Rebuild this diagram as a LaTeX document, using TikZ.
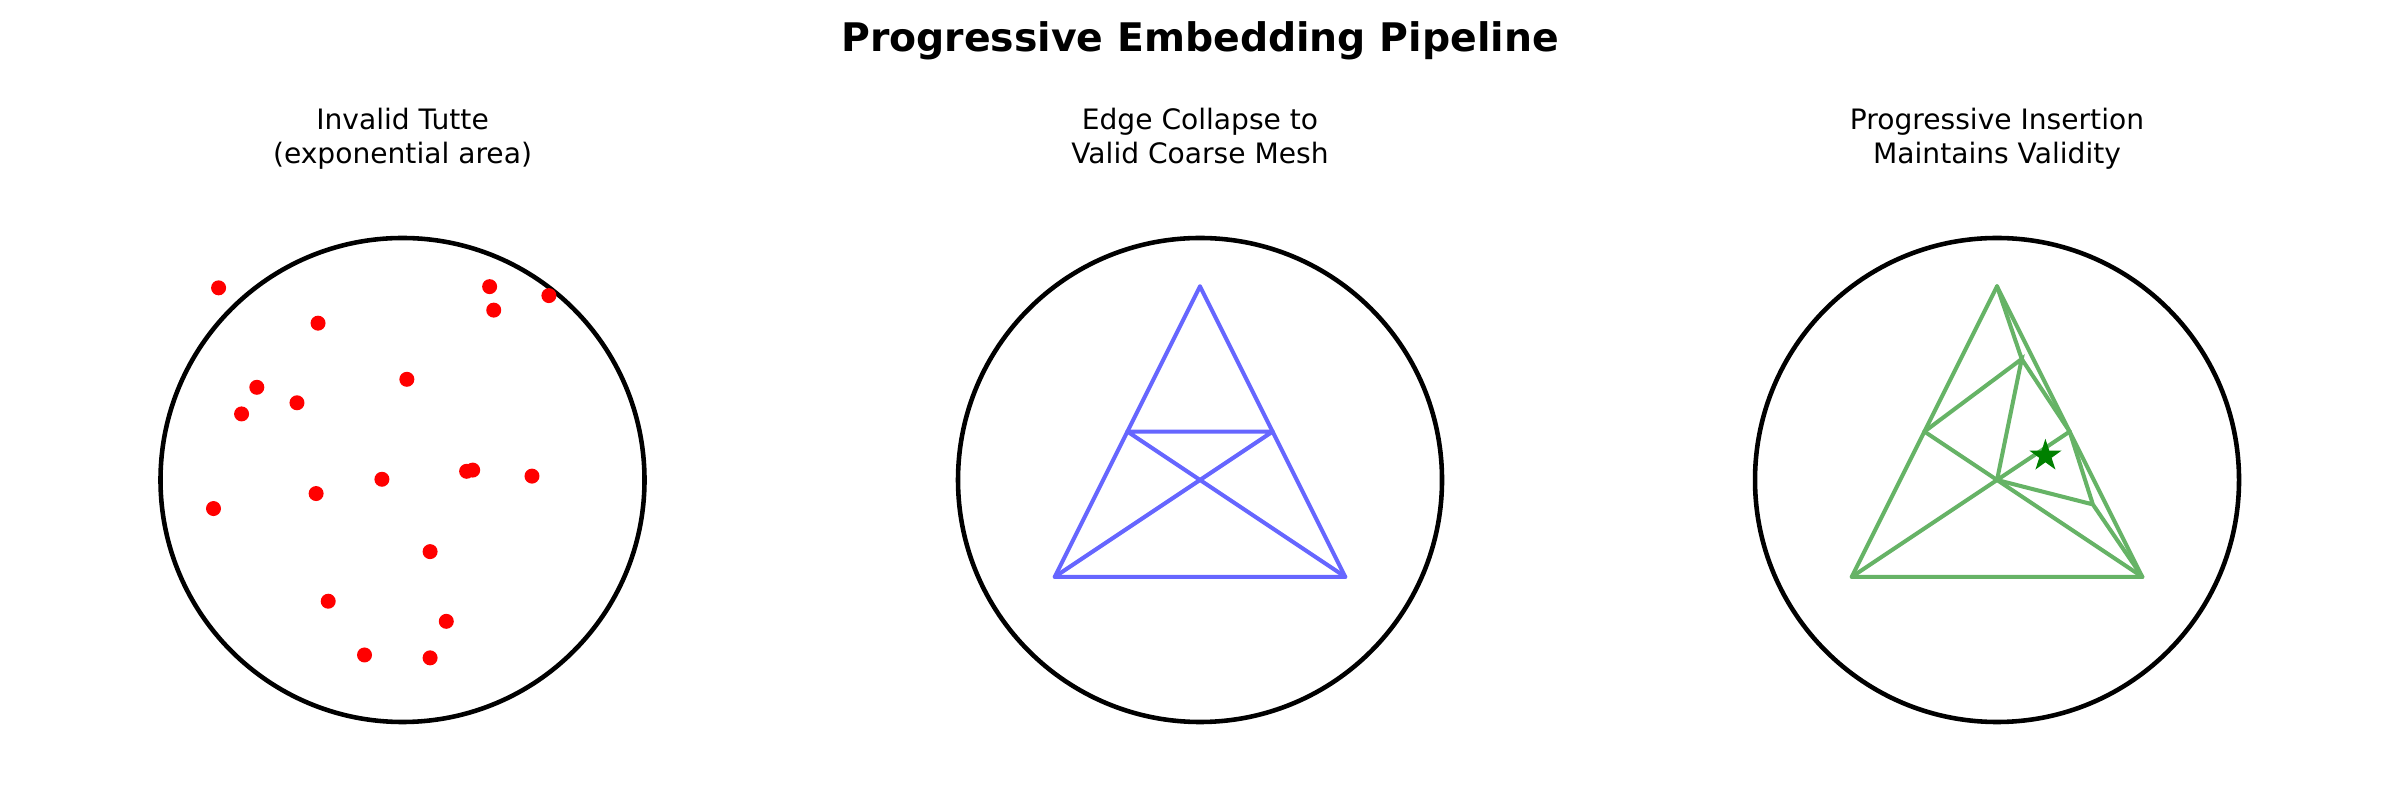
\documentclass[tikz,border=0pt]{standalone}
\usepackage{fontspec}
\setmainfont{DejaVu Sans}
\usetikzlibrary{shapes.geometric}

\definecolor{meshblue}{RGB}{102,102,255}
\definecolor{meshgreen}{RGB}{102,179,102}
\definecolor{stargreen}{RGB}{0,128,0}

\tikzset{
  disk/.style={line width=1.3pt},
  edgeblue/.style={meshblue, line width=1.15pt, line cap=round},
  edgegreen/.style={meshgreen, line width=1.15pt, line cap=round},
  paneltitle/.style={font=\fontsize{8}{9.55}\selectfont, align=center, anchor=base},
}

\begin{document}
\begin{tikzpicture}
        \useasboundingbox (0,0) rectangle (24,8);
        \node[font=\fontsize{11.2}{13}\selectfont\bfseries, anchor=base] (title) at (12,7.485) {Progressive Embedding Pipeline};

        % tutte layout, points everywhere
        \begin{scope}[shift={(4.025,3.2)}, scale=2.42]
            \draw[disk] (0,0) circle[radius=1];
            \node[paneltitle] (t1) at (0,1.308) {Invalid Tutte\\(exponential area)};
            \foreach \x/\y in {-0.760/0.794, -0.349/0.648, 0.360/0.799, 0.377/0.702, 0.605/0.762,
                               0.018/0.416, -0.602/0.383, -0.436/0.319, -0.665/0.273, 0.265/0.036,
                               0.290/0.041, 0.535/0.016, -0.085/0.003, -0.357/-0.056, -0.781/-0.118,
                               0.114/-0.296, -0.307/-0.501, 0.181/-0.584, -0.157/-0.723, 0.114/-0.735}
                \fill[red] (\x,\y) circle[radius=0.031];
        \end{scope}

        % coarse mesh
        \begin{scope}[shift={(12,3.2)}, scale=2.42]
            \draw[disk] (0,0) circle[radius=1];
            \node[paneltitle] (t2) at (0,1.308) {Edge Collapse to\\Valid Coarse Mesh};
            \coordinate (a2) at (0,0.8);
            \coordinate (bl2) at (-0.6,-0.4);
            \coordinate (br2) at (0.6,-0.4);
            \coordinate (ml2) at (-0.3,0.2);
            \coordinate (mr2) at (0.3,0.2);
            \draw[edgeblue] (a2) -- (bl2) (a2) -- (br2) (bl2) -- (br2);
            \draw[edgeblue] (ml2) -- (mr2) (ml2) -- (br2) (mr2) -- (bl2);
        \end{scope}

        % refined mesh
        \begin{scope}[shift={(19.97,3.2)}, scale=2.42]
            \draw[disk] (0,0) circle[radius=1];
            \node[paneltitle] (t3) at (0,1.308) {Progressive Insertion\\Maintains Validity};
            \coordinate (a3) at (0,0.8);
            \coordinate (bl3) at (-0.6,-0.4);
            \coordinate (br3) at (0.6,-0.4);
            \coordinate (ml3) at (-0.3,0.2);
            \coordinate (mr3) at (0.3,0.2);
            \coordinate (c3) at (0,0);
            \coordinate (p3) at (0.102,0.5);
            \coordinate (q3) at (0.396,-0.101);
            \draw[edgegreen] (a3) -- (bl3) (a3) -- (br3) (bl3) -- (br3);
            \draw[edgegreen] (ml3) -- (br3) (bl3) -- (mr3);
            \draw[edgegreen] (ml3) -- (p3) -- (c3) (a3) -- (p3) -- (mr3);
            \draw[edgegreen] (mr3) -- (q3) -- (br3) (c3) -- (q3);
            \node[star, star points=5, star point ratio=2.618, fill=stargreen, inner sep=0pt, minimum size=0.34cm] (s3) at (0.2,0.1) {};
        \end{scope}
\end{tikzpicture}
\end{document}
